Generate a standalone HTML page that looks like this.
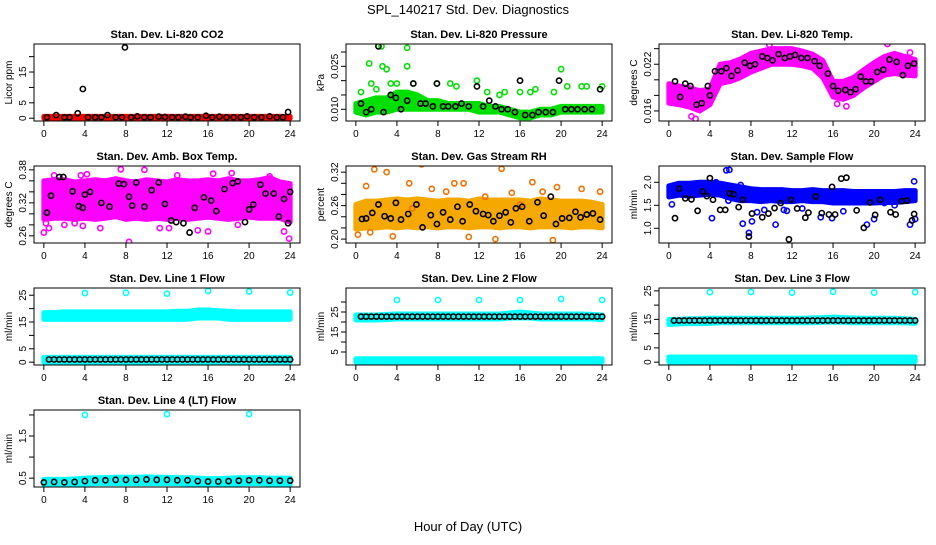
<!DOCTYPE html>
<html><head><meta charset="utf-8">
<style>
body{margin:0;background:#fff;}
svg text{font-family:"Liberation Sans",sans-serif;}
</style></head>
<body>
<svg id="chart" width="936" height="540" xmlns="http://www.w3.org/2000/svg">
<text x="468" y="14" font-size="13" text-anchor="middle">SPL_140217  Std. Dev. Diagnostics</text>
<text x="468" y="531" font-size="13" text-anchor="middle">Hour of Day (UTC)</text>
</svg>
<script>
// ---- shared data ----
const xTicks = [0,4,8,12,16,20,24];
const bandHours = [0,1,2,3,4,5,6,7,8,9,10,11,12,13,14,15,16,17,18,19,20,21,22,23,24];

// Panel 1 CO2
const co2Lo = [0,0,0,0,0,0,0,0,0,0,0,0,0,0,0,0,0,0,0,0,0,0,0,0,0];
const co2Hi = [0.6,0.6,0.6,0.6,0.6,0.6,0.6,0.6,0.6,0.6,0.6,0.6,0.6,0.6,0.6,0.6,0.6,0.6,0.6,0.6,0.6,0.6,0.6,0.6,0.6];
const co2BlackX = [0.3,1.2,2,2.5,3.3,3.8,4.3,5,5.6,6.2,7,7.6,7.9,8.5,9.1,9.8,10.4,11.2,11.8,12.5,13.1,13.8,14.3,15,15.8,16.4,17.1,17.8,18.5,19.2,19.8,20.5,21.2,22,22.7,23.3,23.8];
const co2BlackY = [0.3,1.0,0.3,0.3,1.6,9.5,0.3,0.3,0.3,1.0,0.3,0.3,23,0.3,0.6,0.3,0.3,0.5,0.4,0.3,0.3,0.5,0.3,0.3,0.8,0.3,0.5,0.3,0.3,0.3,0.6,0.3,0.3,0.6,0.3,0.3,2.0];
const co2OutX = [];
const co2OutY = [];

// Panel 2 pressure
const presLo = [0.009,0.008,0.009,0.009,0.010,0.010,0.010,0.010,0.010,0.010,0.010,0.010,0.009,0.009,0.009,0.008,0.007,0.007,0.008,0.008,0.009,0.009,0.009,0.009,0.009];
const presHi = [0.012,0.013,0.014,0.014,0.016,0.016,0.015,0.013,0.013,0.012,0.012,0.012,0.012,0.011,0.011,0.010,0.009,0.009,0.010,0.010,0.011,0.011,0.011,0.011,0.011];
const presOutX = [0.5,1.3,1.5,2,2.6,3,2.5,5,5,3.4,4,5.6,7.9,9.2,9.8,11.8,12.8,14,14.5,16,17,17.5,19.3,20,20.6,22,22.5,24];
const presOutY = [0.016,0.026,0.019,0.017,0.025,0.024,0.032,0.0315,0.025,0.019,0.019,0.019,0.019,0.019,0.018,0.020,0.016,0.015,0.016,0.016,0.016,0.017,0.016,0.024,0.018,0.018,0.018,0.018];
const presBlackX = [0.5,1,1.5,2.2,2.7,3.4,3.9,4.4,5,5.6,6.3,6.8,7.5,7.9,8.5,9,9.7,10.3,11,11.8,12.4,13,13.6,14.2,14.8,15.5,16,16.5,17.2,17.8,18.5,19.2,19.8,20.4,21,21.6,22.3,23,23.8];
const presBlackY = [0.012,0.009,0.010,0.032,0.009,0.015,0.014,0.010,0.013,0.019,0.012,0.012,0.011,0.019,0.011,0.011,0.011,0.012,0.011,0.018,0.011,0.013,0.011,0.010,0.010,0.009,0.020,0.008,0.008,0.009,0.009,0.009,0.020,0.010,0.010,0.010,0.010,0.010,0.017];

// Panel 3 Li-820 temp
const tempLo = [0.0170,0.0168,0.0165,0.0160,0.0168,0.0195,0.0198,0.0203,0.0210,0.0215,0.0220,0.0220,0.0220,0.0218,0.0215,0.0203,0.0178,0.0175,0.0180,0.0190,0.0198,0.0206,0.0208,0.0206,0.0205];
const tempHi = [0.0195,0.0192,0.0190,0.0186,0.0188,0.0220,0.0222,0.0227,0.0234,0.0237,0.0240,0.0240,0.0240,0.0237,0.0233,0.0225,0.0198,0.0198,0.0203,0.0213,0.0222,0.0230,0.0234,0.0230,0.0226];
const tempOutX = [2.2,2.6,9.8,21.3,23.5,16.4,17.3];
const tempOutY = [0.0153,0.0150,0.0245,0.0246,0.0235,0.0169,0.0166];
const tempBlackX = [0.6,1.1,1.6,2.1,2.7,3.2,3.8,4.0,4.5,5.1,5.6,6.1,6.7,7.4,7.9,8.4,9.1,9.6,10.1,10.7,11.3,11.8,12.3,12.9,13.5,14.2,14.7,15.5,16.0,16.5,17.2,17.7,18.2,18.7,19.2,19.7,20.3,20.9,21.5,22.2,22.8,23.3,23.9];
const tempBlackY = [0.0198,0.0178,0.0195,0.0192,0.0168,0.0170,0.0192,0.0180,0.0211,0.0211,0.0215,0.0205,0.0212,0.0222,0.0218,0.0220,0.0230,0.0228,0.0225,0.0233,0.0228,0.0230,0.0232,0.0228,0.0228,0.0224,0.0218,0.0208,0.0192,0.0186,0.0187,0.0184,0.0188,0.0204,0.0198,0.0198,0.0210,0.0213,0.0226,0.0223,0.0206,0.0218,0.0221];

// Panel 4 amb box temp
const ambLo = [0.290,0.292,0.292,0.290,0.292,0.290,0.292,0.295,0.290,0.292,0.290,0.292,0.290,0.292,0.290,0.292,0.294,0.292,0.290,0.292,0.294,0.292,0.292,0.292,0.285];
const ambHi = [0.360,0.362,0.362,0.358,0.360,0.362,0.360,0.364,0.360,0.358,0.362,0.360,0.358,0.362,0.360,0.360,0.362,0.360,0.364,0.360,0.360,0.362,0.366,0.358,0.355];
const ambOutX = [0,0.2,0.5,1.0,2.0,3.6,3.8,4.2,5.5,7.5,8.3,9.8,11.3,12.2,13.0,15.0,16.5,18.3,18.9,22.0,23.4,23.9,16.0,3.0];
const ambOutY = [0.266,0.283,0.274,0.370,0.280,0.370,0.278,0.372,0.274,0.381,0.249,0.380,0.274,0.274,0.370,0.270,0.373,0.374,0.280,0.368,0.268,0.255,0.268,0.283];
const ambBlackX = [0.3,0.7,1.5,1.9,2.8,3.4,3.8,4.0,4.5,5.6,6.4,7.3,7.8,8.3,8.6,9.0,9.8,10.5,11.2,11.8,12.4,12.9,13.6,14.2,14.7,15.6,16.3,16.8,17.6,18.4,18.9,19.6,20.0,20.4,21.1,21.6,22.4,22.9,23.4,23.8,24.0];
const ambBlackY = [0.302,0.333,0.367,0.367,0.341,0.314,0.311,0.335,0.340,0.320,0.313,0.355,0.354,0.331,0.315,0.357,0.313,0.343,0.357,0.318,0.288,0.285,0.283,0.266,0.311,0.330,0.324,0.305,0.345,0.356,0.359,0.285,0.308,0.317,0.353,0.337,0.337,0.295,0.327,0.283,0.340];

// Panel 5 gas stream RH
const rhLo = [0.218,0.220,0.220,0.222,0.220,0.222,0.220,0.222,0.220,0.222,0.222,0.220,0.222,0.222,0.220,0.222,0.222,0.220,0.222,0.222,0.222,0.220,0.222,0.222,0.220];
const rhHi = [0.262,0.268,0.268,0.270,0.272,0.270,0.272,0.270,0.268,0.270,0.270,0.268,0.272,0.270,0.270,0.270,0.270,0.268,0.272,0.270,0.268,0.268,0.268,0.266,0.262];
const rhOutX = [0.2,1.0,1.4,1.8,3.0,3.6,5.2,5.5,6.4,7.4,8.8,9.6,10.5,11.0,12.6,13.6,14.2,15.2,16.0,17.2,18.2,19.2,19.6,22.0,23.8];
const rhOutY = [0.208,0.295,0.212,0.325,0.320,0.205,0.300,0.255,0.334,0.290,0.285,0.300,0.300,0.204,0.276,0.200,0.326,0.283,0.262,0.302,0.285,0.198,0.293,0.290,0.285];
const rhBlackX = [0.6,1.0,1.6,2.2,2.8,3.4,3.9,4.4,5.1,5.9,6.5,7.3,7.9,8.5,9.2,9.9,10.4,11.1,11.7,12.4,12.9,13.4,14.0,14.6,15.1,15.6,16.2,16.9,17.7,18.3,19.0,19.5,20.1,20.8,21.4,21.9,22.5,23.1,23.8];
const rhBlackY = [0.236,0.237,0.247,0.262,0.241,0.237,0.265,0.235,0.245,0.262,0.221,0.243,0.227,0.248,0.235,0.258,0.232,0.262,0.250,0.245,0.243,0.232,0.242,0.248,0.230,0.255,0.258,0.232,0.266,0.242,0.276,0.227,0.237,0.238,0.249,0.239,0.244,0.246,0.235];

// Panel 6 sample flow
const flowLo = [1.68,1.72,1.70,1.72,1.74,1.72,1.65,1.60,1.60,1.58,1.60,1.58,1.58,1.60,1.58,1.58,1.55,1.55,1.55,1.55,1.55,1.56,1.56,1.58,1.60];
const flowHi = [1.92,1.98,1.98,2.00,2.00,1.98,1.94,1.90,1.86,1.84,1.84,1.84,1.82,1.82,1.84,1.82,1.82,1.82,1.80,1.80,1.80,1.80,1.80,1.82,1.82];
const flowOutX = [0.3,4.2,4.6,5.6,5.9,5.8,7.0,7.2,7.8,8.1,8.6,9.3,10.4,11.2,11.5,13.0,14.8,15.9,17.0,18.4,19.3,20.0,21.0,21.5,22.0,23.5,23.9,24.0];
const flowOutY = [1.52,1.22,2.0,2.26,2.27,1.6,1.94,1.10,0.90,1.15,1.35,1.40,1.08,1.40,1.38,1.43,1.24,1.22,1.37,1.60,1.08,1.20,1.55,1.72,1.50,1.08,2.02,1.20];
const flowBlackX = [0.6,1.0,1.6,2.2,2.8,3.3,3.7,4.0,4.3,5.0,5.5,5.9,6.3,6.8,7.2,7.8,8.1,9.1,9.7,10.3,10.9,11.7,11.9,12.5,13.3,13.6,14.3,14.9,15.6,15.9,16.2,16.8,17.3,18.3,19.0,19.6,20.1,20.6,21.6,22.1,22.7,23.2,23.7,23.9];
const flowBlackY = [1.22,1.86,1.65,1.63,1.38,1.80,1.70,2.09,1.62,1.40,1.40,1.76,1.74,1.46,1.62,0.82,1.32,1.24,1.32,1.44,1.55,0.76,1.62,1.43,1.23,1.34,1.69,1.33,1.30,1.90,1.30,2.08,2.10,1.39,1.01,1.56,1.29,1.62,1.35,1.30,1.59,1.60,1.17,1.31];

// Panel 7 line 1 flow
const l1Lo = [16,16,16,16,16,16,16,16,16,16,16,16,16,16,16,16.5,16.5,16.5,16,16,16,16,16,16,16];
const l1Hi = [18.5,18.5,18.8,18.8,18.8,18.8,18.8,18.8,18.8,18.8,18.8,18.8,18.8,19,19,19.5,19.5,19.2,19,18.8,18.8,18.8,18.8,18.8,18.8];
const l1Lo2 = [0,0,0,0,0,0,0,0,0,0,0,0,0,0,0,0,0,0,0,0,0,0,0,0,0];
const l1Hi2 = [1.8,1.8,1.8,1.8,1.8,1.8,1.8,1.8,1.8,1.8,1.8,1.8,1.8,1.8,1.8,1.8,1.8,1.8,1.8,1.8,1.8,1.8,1.8,1.8,1.8];
const l1OutX = [4,8,12,16,20,24];
const l1OutY = [25.8,25.9,25.6,26.6,26.4,26];
const l1BlackY = 1.0;

// Panel 8 line 2 flow
const l2Lo = [21,21,21,21.2,21.5,21.5,21.5,21.5,21.5,21.5,21.5,21.5,21.5,21.5,21.5,22,22,22,21.5,21.5,21.5,21.5,21.5,21.5,21.2];
const l2Hi = [23.5,23.5,23.5,23.8,24,24,24,24,24,24,24,24,24,24,24,24.5,25,24.5,24,24,24,24,24,23.8,23.5];
const l2Lo2 = [0,0,0,0,0,0,0,0,0,0,0,0,0,0,0,0,0,0,0,0,0,0,0,0,0];
const l2Hi2 = [1.6,1.6,1.6,1.6,1.6,1.6,1.6,1.6,1.6,1.6,1.6,1.6,1.6,1.6,1.6,1.6,1.6,1.6,1.6,1.6,1.6,1.6,1.6,1.6,1.6];
const l2OutX = [4,8,12,16,20,24];
const l2OutY = [31,31,31,31,31.5,31];
const l2BlackY = 22.7;

// Panel 9 line 3 flow
const l3Lo = [13.2,13.4,13.5,13.5,13.6,13.8,13.8,13.8,13.8,13.8,13.8,13.8,13.8,13.8,13.8,14,14,14,13.8,13.8,13.8,13.8,13.8,13.8,13.6];
const l3Hi = [15,15,15.2,15.2,15.4,15.4,15.4,15.4,15.4,15.4,15.4,15.4,15.4,15.4,15.5,15.6,15.8,15.6,15.5,15.4,15.4,15.4,15.4,15.2,15];
const l3Lo2 = [0,0,0,0,0,0,0,0,0,0,0,0,0,0,0,0,0,0,0,0,0,0,0,0,0];
const l3Hi2 = [1.8,1.8,1.8,1.8,1.8,1.8,1.8,1.8,1.8,1.8,1.8,1.8,1.8,1.8,1.8,1.8,1.8,1.8,1.8,1.8,1.8,1.8,1.8,1.8,1.8];
const l3OutX = [4,8,12,16,20,24];
const l3OutY = [24.5,24.6,24.4,24.7,24.4,24.5];
const l3BlackY = 14.6;

// Panel 10 line 4 flow
const l4Lo = [0.34,0.35,0.35,0.35,0.36,0.37,0.37,0.37,0.37,0.37,0.37,0.37,0.37,0.37,0.36,0.35,0.35,0.35,0.36,0.36,0.37,0.37,0.36,0.36,0.35];
const l4Hi = [0.47,0.47,0.47,0.48,0.50,0.51,0.51,0.52,0.52,0.52,0.53,0.52,0.52,0.51,0.51,0.50,0.49,0.49,0.50,0.51,0.51,0.51,0.50,0.50,0.50];
const l4OutX = [4,12,20];
const l4OutY = [2.0,2.02,2.02];
const l4BlackY = [0.40,0.41,0.40,0.41,0.43,0.45,0.45,0.46,0.46,0.46,0.47,0.46,0.46,0.45,0.45,0.43,0.42,0.42,0.43,0.44,0.45,0.45,0.44,0.44,0.44];

const regBlackX = [0.5,1,1.5,2,2.5,3,3.5,4,4.5,5,5.5,6,6.5,7,7.5,8,8.5,9,9.5,10,10.5,11,11.5,12,12.5,13,13.5,14,14.5,15,15.5,16,16.5,17,17.5,18,18.5,19,19.5,20,20.5,21,21.5,22,22.5,23,23.5,24];

// ---- drawing ----
const svg = document.getElementById('chart');
const NS = 'http://www.w3.org/2000/svg';
const colX = [34, 346, 659];
const rowY = [44, 166, 288, 410];
const PW = 266, PH = 77;

function mk(tag, attrs, parent) {
  const e = document.createElementNS(NS, tag);
  for (const k in attrs) e.setAttribute(k, attrs[k]);
  (parent || svg).appendChild(e);
  return e;
}

function panel(cfg) {
  const g = mk('g', {});
  
  
  const x0 = colX[cfg.col], y0 = rowY[cfg.row];
  const sx = v => x0 + (v + 0.96) / 25.92 * PW;
  const sy = v => y0 + PH - (v - cfg.ymin) / (cfg.ymax - cfg.ymin) * PH;
  const clip = 'clip-' + cfg.name;
  const cp = mk('clipPath', {id: clip}, g);
  mk('rect', {x: x0, y: y0, width: PW, height: PH}, cp);
  const plot = mk('g', {'clip-path': 'url(#' + clip + ')'}, g);

  (cfg.bands || []).forEach(b => {
    let pts = bandHours.map((h, i) => sx(h) + ',' + sy(b.hi[i]));
    pts = pts.concat(bandHours.slice().reverse().map((h, j) => sx(h) + ',' + sy(b.lo[bandHours.length - 1 - j])));
    const p = mk('polygon', {points: pts.join(' '), fill: b.color, stroke: b.color, 'stroke-width': 5, 'stroke-linejoin': 'round'}, plot);
    
    
  });
  (cfg.pts || []).forEach(s => {
    s.x.forEach((xv, i) => {
      const yv = Array.isArray(s.y) ? s.y[i] : s.y;
      const c = mk('circle', {cx: sx(xv), cy: sy(yv), r: 2.6, fill: 'none', stroke: s.color, 'stroke-width': 1.6}, plot);
      
      
    });
  });

  const box = mk('rect', {x: x0, y: y0, width: PW, height: PH, fill: 'none', stroke: '#000', 'stroke-width': 1}, g);
  
  

  xTicks.forEach(t => {
    mk('line', {x1: sx(t), x2: sx(t), y1: y0 + PH, y2: y0 + PH + 5, stroke: '#000'}, g);
    const tx = mk('text', {x: sx(t), y: y0 + PH + 16, 'font-size': 10, 'text-anchor': 'middle'}, g);
    tx.textContent = t;
    
    
  });
  cfg.yticks.forEach((t, i) => {
    const y = sy(t);
    mk('line', {x1: x0 - 5, x2: x0, y1: y, y2: y, stroke: '#000'}, g);
    const lbl = cfg.ylabels[i];
    if (lbl !== '') {
      const tx = mk('text', {x: x0 - 8, y: y, 'font-size': 10, 'text-anchor': 'middle', transform: 'rotate(-90 ' + (x0 - 8) + ' ' + y + ')'}, g);
      tx.textContent = lbl;
      
      
    }
  });
  const yt = mk('text', {x: x0 - 22, y: y0 + PH / 2, 'font-size': 10, 'text-anchor': 'middle', transform: 'rotate(-90 ' + (x0 - 22) + ' ' + (y0 + PH / 2) + ')'}, g);
  yt.textContent = cfg.ytitle;
  
  
  const tt = mk('text', {x: x0 + PW / 2, y: y0 - 6, 'font-size': 11, 'font-weight': 'bold', 'text-anchor': 'middle'}, g);
  tt.textContent = cfg.title;
  
  
}

const K = '#000', CY = '#00ffff';
panel({name:'co2-panel', col:0,row:0,ymin:-0.9,ymax:24.1,title:'Stan. Dev. Li-820 CO2',ytitle:'Licor ppm',
  yticks:[0,5,10,15,20], ylabels:['0','5','','15',''],
  bands:[{lo:co2Lo,hi:co2Hi,color:'#ff0000'}],
  pts:[{x:co2OutX,y:co2OutY,color:'#ff0000',label:'co2-point'},{x:co2BlackX,y:co2BlackY,color:K,label:'co2-black-point'}]});
panel({name:'pressure-panel', col:1,row:0,ymin:0.0059,ymax:0.0328,title:'Stan. Dev. Li-820 Pressure',ytitle:'kPa',
  yticks:[0.010,0.015,0.020,0.025,0.030], ylabels:['0.010','','','0.025',''],
  bands:[{lo:presLo,hi:presHi,color:'#00e000'}],
  pts:[{x:presOutX,y:presOutY,color:'#00e000',label:'pressure-point'},{x:presBlackX,y:presBlackY,color:K,label:'pressure-black-point'}]});
panel({name:'licor-temp-panel', col:2,row:0,ymin:0.01471,ymax:0.0246,title:'Stan. Dev. Li-820 Temp.',ytitle:'degrees C',
  yticks:[0.016,0.018,0.020,0.022,0.024], ylabels:['0.016','','','0.022',''],
  bands:[{lo:tempLo,hi:tempHi,color:'#ff00ff'}],
  pts:[{x:tempOutX,y:tempOutY,color:'#ff00ff',label:'temp-point'},{x:tempBlackX,y:tempBlackY,color:K,label:'temp-black-point'}]});
panel({name:'amb-box-panel', col:0,row:1,ymin:0.247,ymax:0.387,title:'Stan. Dev. Amb. Box Temp.',ytitle:'degrees C',
  yticks:[0.26,0.28,0.30,0.32,0.34,0.36,0.38], ylabels:['0.26','','','0.32','','','0.38'],
  bands:[{lo:ambLo,hi:ambHi,color:'#ff00ff'}],
  pts:[{x:ambOutX,y:ambOutY,color:'#ff00ff',label:'amb-point'},{x:ambBlackX,y:ambBlackY,color:K,label:'amb-black-point'}]});
panel({name:'rh-panel', col:1,row:1,ymin:0.193,ymax:0.331,title:'Stan. Dev. Gas Stream RH',ytitle:'percent',
  yticks:[0.20,0.22,0.24,0.26,0.28,0.30,0.32], ylabels:['0.20','','','0.26','','','0.32'],
  bands:[{lo:rhLo,hi:rhHi,color:'#f5a800'}],
  pts:[{x:rhOutX,y:rhOutY,color:'#f07000',label:'rh-point'},{x:rhBlackX,y:rhBlackY,color:K,label:'rh-black-point'}]});
panel({name:'sample-flow-panel', col:2,row:1,ymin:0.68,ymax:2.354,title:'Stan. Dev. Sample Flow',ytitle:'ml/min',
  yticks:[1.0,1.5,2.0], ylabels:['1.0','1.5','2.0'],
  bands:[{lo:flowLo,hi:flowHi,color:'#0000ff'}],
  pts:[{x:flowOutX,y:flowOutY,color:'#0000ff',label:'flow-point'},{x:flowBlackX,y:flowBlackY,color:K,label:'flow-black-point'}]});
panel({name:'line1-panel', col:0,row:2,ymin:-1.06,ymax:27.7,title:'Stan. Dev. Line 1 Flow',ytitle:'ml/min',
  yticks:[0,5,10,15,20,25], ylabels:['0','5','','15','','25'],
  bands:[{lo:l1Lo,hi:l1Hi,color:CY},{lo:l1Lo2,hi:l1Hi2,color:CY}],
  pts:[{x:l1OutX,y:l1OutY,color:CY,label:'line1-point'},{x:regBlackX,y:l1BlackY,color:K,label:'line1-black-point'}]});
panel({name:'line2-panel', col:1,row:2,ymin:-1.5,ymax:37,title:'Stan. Dev. Line 2 Flow',ytitle:'ml/min',
  yticks:[5,10,15,20,25,30], ylabels:['5','','15','','25',''],
  bands:[{lo:l2Lo,hi:l2Hi,color:CY},{lo:l2Lo2,hi:l2Hi2,color:CY}],
  pts:[{x:l2OutX,y:l2OutY,color:CY,label:'line2-point'},{x:regBlackX,y:l2BlackY,color:K,label:'line2-black-point'}]});
panel({name:'line3-panel', col:2,row:2,ymin:-1,ymax:26,title:'Stan. Dev. Line 3 Flow',ytitle:'ml/min',
  yticks:[0,5,10,15,20,25], ylabels:['0','5','','15','','25'],
  bands:[{lo:l3Lo,hi:l3Hi,color:CY},{lo:l3Lo2,hi:l3Hi2,color:CY}],
  pts:[{x:l3OutX,y:l3OutY,color:CY,label:'line3-point'},{x:regBlackX,y:l3BlackY,color:K,label:'line3-black-point'}]});
panel({name:'line4-panel', col:0,row:3,ymin:0.29,ymax:2.117,title:'Stan. Dev. Line 4 (LT) Flow',ytitle:'ml/min',
  yticks:[0.5,1.0,1.5,2.0], ylabels:['0.5','','1.5',''],
  bands:[{lo:l4Lo,hi:l4Hi,color:CY}],
  pts:[{x:l4OutX,y:l4OutY,color:CY,label:'line4-point'},{x:bandHours,y:l4BlackY,color:K,label:'line4-black-point'}]});
</script>
</body></html>
